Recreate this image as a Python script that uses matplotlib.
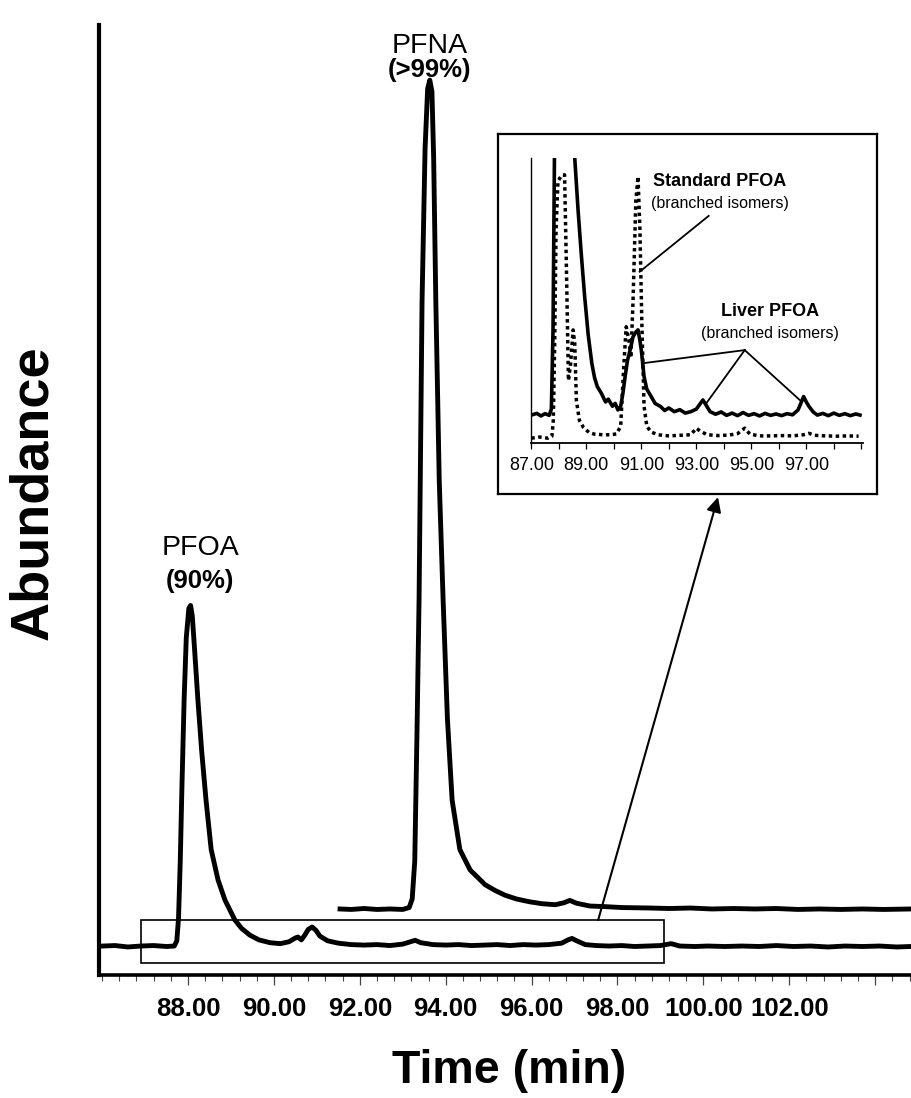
import matplotlib
matplotlib.use("Agg")
import matplotlib.pyplot as plt
from matplotlib.patches import Rectangle
from matplotlib.ticker import MultipleLocator, FixedLocator, FixedFormatter

plt.rcParams['font.family'] = ['Liberation Sans', 'DejaVu Sans']

# ---------------- data (main chromatogram) ----------------
# lower trace: liver sample, PFOA (and branched isomers)
pfoa_time = [86.02, 86.3, 86.6, 86.9, 87.2, 87.5, 87.68, 87.74, 87.78, 87.82, 87.86, 87.91,
             87.96, 88.02, 88.06, 88.10, 88.15, 88.23, 88.32, 88.42, 88.54, 88.70, 88.86,
             89.09, 89.25, 89.44, 89.65, 89.91, 90.15, 90.35, 90.50, 90.56, 90.64, 90.72,
             90.80, 90.89, 90.98, 91.07, 91.25, 91.5, 91.8, 92.1, 92.4, 92.7, 93.0, 93.18,
             93.29, 93.42, 93.7, 94.0, 94.3, 94.6, 94.9, 95.2, 95.5, 95.8, 96.1, 96.4, 96.7,
             96.85, 96.94, 97.05, 97.25, 97.5, 97.8, 98.1, 98.4, 98.7, 99.0, 99.25, 99.45,
             99.8, 100.1, 100.5, 100.9, 101.3, 101.7, 102.1, 102.5, 102.9, 103.3, 103.7,
             104.1, 104.5, 104.83]
pfoa_abund = [3.05, 3.1, 2.95, 3.05, 3.1, 3.0, 3.05, 3.6, 6, 12, 20, 29,
              35.5, 38.6, 38.9, 37.8, 34.5, 29.0, 23.5, 18.4, 13.2, 10.0, 7.9,
              5.8, 4.9, 4.2, 3.7, 3.4, 3.3, 3.5, 3.9, 4.0, 3.7, 4.2,
              4.8, 5.05, 4.7, 4.1, 3.6, 3.35, 3.2, 3.15, 3.2, 3.1, 3.25, 3.5,
              3.65, 3.4, 3.2, 3.15, 3.2, 3.1, 3.15, 3.2, 3.1, 3.2, 3.15, 3.2, 3.35,
              3.7, 3.85, 3.6, 3.2, 3.1, 3.05, 3.1, 3.0, 3.05, 3.1, 3.3, 3.05,
              3.0, 3.05, 3.0, 3.05, 3.0, 3.1, 3.0, 3.05, 2.95, 3.05, 3.0,
              3.05, 2.95, 3.0]

# upper trace: PFNA
pfna_time = [91.54, 91.8, 92.1, 92.4, 92.7, 93.0, 93.15, 93.22, 93.28, 93.33, 93.38, 93.45,
             93.52, 93.58, 93.63, 93.68, 93.72, 93.77, 93.85, 93.94, 94.04, 94.15, 94.33,
             94.57, 94.92, 95.15, 95.38, 95.65, 95.96, 96.25, 96.55, 96.75, 96.89, 97.05,
             97.36, 97.7, 98.1, 98.76, 99.2, 99.7, 100.2, 100.7, 101.2, 101.7, 102.2,
             102.7, 103.2, 103.7, 104.2, 104.83]
pfna_abund = [6.95, 6.9, 7.0, 6.9, 6.95, 6.9, 7.1, 8.0, 12, 25, 39.5, 71,
              87, 93.3, 94.2, 93.0, 86, 71, 52, 39.5, 27, 18.4, 13.2,
              11.05, 9.5, 8.9, 8.4, 8.0, 7.7, 7.5, 7.4, 7.6, 7.85, 7.55,
              7.26, 7.2, 7.1, 7.05, 7.0, 7.05, 6.95, 7.0, 6.95, 7.0, 6.9,
              6.95, 6.9, 6.95, 6.9, 6.95]

main_ticks = [88, 90, 92, 94, 96, 98, 100, 102, 104]
main_ticklabels = ["88.00", "90.00", "92.00", "94.00", "96.00", "98.00", "100.00", "102.00", ""]

# ---------------- data (inset) ----------------
liver_time = [87.0, 87.2, 87.35, 87.5, 87.65, 87.73, 87.79, 87.85, 88.05, 88.3, 88.58, 88.70,
              88.82, 88.94, 89.07, 89.2, 89.3, 89.4, 89.55, 89.7, 89.8, 89.95, 90.05, 90.15,
              90.25, 90.33, 90.42, 90.5, 90.6, 90.7, 90.8, 90.88, 90.95, 91.0, 91.1, 91.2,
              91.36, 91.5, 91.7, 91.85, 92.0, 92.2, 92.4, 92.6, 92.8, 93.0, 93.15, 93.24,
              93.35, 93.5, 93.7, 93.9, 94.1, 94.3, 94.5, 94.7, 94.9, 95.1, 95.3, 95.5, 95.7,
              95.9, 96.1, 96.3, 96.5, 96.7, 96.82, 96.9, 97.0, 97.1, 97.25, 97.4, 97.6, 97.8,
              98.0, 98.2, 98.4, 98.6, 98.8, 98.95]
liver_abund = [9.9, 10.5, 9.6, 10.4, 9.8, 12, 40, 110, 370, 220, 100, 81.9,
               66, 51.5, 38, 28.1, 23, 19.9, 17.5, 14.5, 15.5, 13, 14, 11.7,
               13, 17.5, 24, 29.2, 33, 37.4, 39.0, 39.8, 36, 32.7, 23.4, 19,
               16.4, 14, 12.9, 11.5, 12.4, 11.1, 11.8, 10.6, 11.1, 12.0, 14, 15.2,
               13.5, 11.1, 10.2, 11.0, 9.8, 10.6, 9.7, 10.8, 9.8, 10.4, 9.6, 10.5, 9.8,
               10.3, 9.7, 10.4, 10.0, 11.7, 14.5, 16.4, 14.5, 12.9, 11, 9.9, 10.5, 9.7,
               10.6, 9.8, 10.4, 9.7, 10.3, 9.9]

std_time = [87.0, 87.3, 87.6, 87.75, 87.8, 87.85, 87.9, 87.97, 88.1, 88.21, 88.28, 88.35,
            88.43, 88.52, 88.58, 88.64, 88.75, 88.9, 89.1, 89.3, 89.6, 89.9, 90.1, 90.25,
            90.35, 90.45, 90.55, 90.62, 90.7, 90.8, 90.88, 90.95, 91.02, 91.1, 91.2, 91.35,
            91.6, 92.0, 92.4, 92.8, 93.0, 93.15, 93.4, 93.8, 94.2, 94.5, 94.76, 94.95,
            95.3, 95.7, 96.1, 96.5, 96.9, 97.1, 97.3, 97.7, 98.1, 98.5, 98.9]
std_abund = [1.8, 2.2, 1.8, 2.5, 8, 35, 75, 92, 94, 94.2, 60, 22,
             28, 39.8, 35, 15, 8, 5.5, 3.8, 3.2, 3.0, 3.0, 3.3, 6,
             25, 40.9, 36, 30, 50, 85, 93.6, 75, 42, 13, 6, 4,
             3, 2.6, 2.8, 3.0, 5.3, 4.2, 3.0, 2.7, 2.9, 3.4, 5.3, 3.2,
             2.6, 2.6, 2.7, 2.6, 3.0, 3.5, 2.8, 2.6, 2.5, 2.6, 2.5]

inset_ticks = list(range(87, 100))
inset_ticklabels = ["87.00", "", "89.00", "", "91.00", "", "93.00", "", "95.00", "", "97.00", "", ""]

# ---------------- figure ----------------
W, H = 911, 1098
fig = plt.figure(figsize=(W / 100, H / 100), dpi=100)


def fr(x0, y0, x1, y1):
    """pixel box (top-left origin) -> figure fraction rect"""
    return [x0 / W, 1 - y1 / H, (x1 - x0) / W, (y1 - y0) / H]


ax = fig.add_axes(fr(99, 25, 911, 975))
ax.plot(pfoa_time, pfoa_abund, color='black', lw=3.5, solid_joinstyle='round', zorder=3)
ax.plot(pfna_time, pfna_abund, color='black', lw=3.5, solid_joinstyle='round', zorder=3)
ax.set_xlim(85.928, 104.834)
ax.set_ylim(0, 100)

for s in ['top', 'right']:
    ax.spines[s].set_visible(False)
ax.spines['left'].set_linewidth(3.0)
ax.spines['bottom'].set_linewidth(2.6)
ax.set_yticks([])
ax.xaxis.set_major_locator(FixedLocator(main_ticks))
ax.xaxis.set_major_formatter(FixedFormatter(main_ticklabels))
ax.xaxis.set_minor_locator(MultipleLocator(0.4))
ax.tick_params(axis='x', which='major', length=7, width=0.9, pad=9,
               labelsize=18.5, color='#444444')
ax.tick_params(axis='x', which='minor', length=4, width=0.8, color='#444444')
for lab in ax.get_xticklabels():
    lab.set_fontweight('bold')

# zoom rectangle
ax.add_patch(Rectangle((86.91, 1.26), 99.08 - 86.91, 5.79 - 1.26, fill=False,
                       edgecolor='black', lw=1.2, zorder=4))

# arrow to inset
ax.annotate('', xy=(100.34, 50.3), xytext=(97.55, 5.79),
            arrowprops=dict(arrowstyle='-|>', color='black', lw=1.5,
                            mutation_scale=22, shrinkA=0, shrinkB=0), zorder=5)

# peak labels
ax.text(88.28, 44.9, "PFOA", ha='center', va='center', fontsize=20.5)
ax.text(88.28, 41.5, "(90%)", ha='center', va='center', fontsize=18.5, fontweight='bold')
ax.text(93.63, 97.8, "PFNA", ha='center', va='center', fontsize=20.5, clip_on=False)
ax.text(93.63, 95.3, "(>99%)", ha='center', va='center', fontsize=18.5, fontweight='bold')

# axis titles
fig.text(33 / W, 1 - 493 / H, "Abundance", rotation=90, ha='center', va='center',
         fontsize=39, fontweight='bold')
fig.text(509 / W, 1 - 1071 / H, "Time (min)", ha='center', va='center',
         fontsize=33.5, fontweight='bold')

# ---------------- inset ----------------
box = fig.add_axes(fr(498, 134, 877, 494))
box.set_xticks([])
box.set_yticks([])
for s in box.spines.values():
    s.set_linewidth(1.6)
box.set_facecolor('white')

axi = fig.add_axes(fr(531.3, 158.3, 862.7, 443.3))
axi.patch.set_alpha(0)
axi.plot(liver_time, liver_abund, color='black', lw=2.6, zorder=3)
axi.plot(std_time, std_abund, color='black', lw=2.5, linestyle=(0, (1, 1)), zorder=3)
axi.set_xlim(87.0, 99.05)
axi.set_ylim(0, 100)
for s in ['top', 'right']:
    axi.spines[s].set_visible(False)
axi.spines['left'].set_linewidth(1.0)
axi.spines['bottom'].set_linewidth(1.3)
axi.set_yticks([])
axi.xaxis.set_major_locator(FixedLocator(inset_ticks))
axi.xaxis.set_major_formatter(FixedFormatter(inset_ticklabels))
axi.tick_params(axis='x', length=4, width=0.9, pad=6, labelsize=13)

# inset annotations
axi.text(93.85, 91.7, "Standard PFOA", ha='center', va='center', fontsize=13,
         fontweight='bold')
axi.text(93.85, 84.3, "(branched isomers)", ha='center', va='center', fontsize=11.5)
axi.plot([93.45, 90.94], [79.8, 60.2], color='black', lw=1.3, zorder=4)

axi.text(95.67, 46.1, "Liver PFOA", ha='center', va='center', fontsize=13,
         fontweight='bold')
axi.text(95.67, 38.7, "(branched isomers)", ha='center', va='center', fontsize=11.5)
for ex, ey in [(91.06, 28.1), (93.36, 14.0), (96.76, 15.2)]:
    axi.plot([94.76, ex], [32.7, ey], color='black', lw=1.3, zorder=4)

fig.savefig("out.png", dpi=100)
